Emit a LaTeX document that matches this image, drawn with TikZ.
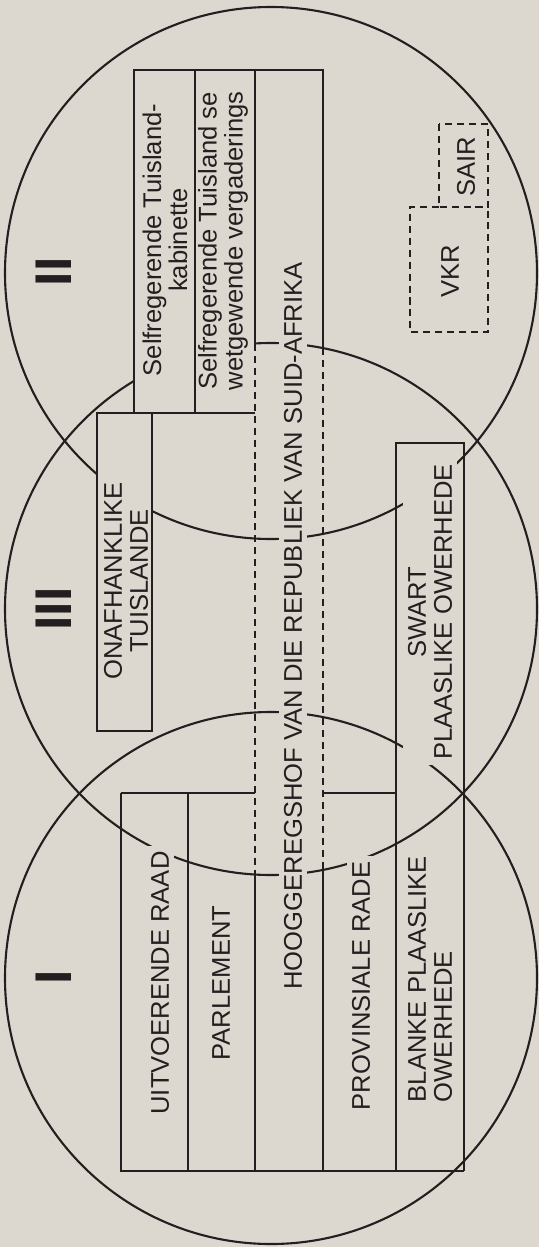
\documentclass[tikz,border=0pt]{standalone}
\usepackage{fontspec}
\setmainfont{Liberation Sans}
\usepackage{tikz}
\usetikzlibrary{positioning}
\definecolor{paper}{RGB}{221,216,207}
\definecolor{ink}{RGB}{35,31,32}

\begin{document}
\begin{tikzpicture}[x=0.02cm, y=-0.02cm,
  ring/.style={ink, line width=1.2pt},
  cell/.style={ink, line width=0.7pt},
  dashcell/.style={ink, line width=0.8pt, dash pattern=on 4pt off 2.8pt},
  lbl/.style={rotate=90, align=center, fill=paper, inner sep=3pt, text=ink,
    font=\fontsize{14.57}{14.8}\selectfont},
  boxlbl/.style={lbl, fill=none},
  numeral/.style={rotate=90, text=ink, inner sep=0pt,
    font=\fontsize{29.4}{30}\selectfont\bfseries}]
  % Paper
  \fill[paper] (0,0) rectangle (539,1247);
  \useasboundingbox (0,0) rectangle (539,1247);
  % === Circles II, III, I (top to bottom) ===
  \foreach \cy in {273,609,978} {
    \draw[ring] (271,\cy) circle (266);
  }
  % === Boxes of circle II and III (opaque) ===
  \fill[paper] (134,70) rectangle (255,413);
  \fill[paper] (97,413) rectangle (152,731);
  \draw[cell] (255,344) -- (255,70) -- (134,70) -- (134,413);
  \draw[cell] (195,70) -- (195,413);
  \draw[cell] (97,413) -- (255,413);
  \draw[cell] (97,413) rectangle (152,731);
  \draw[cell] (255,70) -- (323,70) -- (323,348);
  % Supreme court column: dashed where it lies in circle III
  \draw[dashcell] (255,344) -- (255,875);
  \draw[dashcell] (323,348) -- (323,870);
  \draw[cell] (255,875) -- (255,1171);
  \draw[cell] (323,870) -- (323,1171);
  % === Table of circle I ===
  \draw[cell] (121,793) -- (255,793);
  \draw[cell] (323,793) -- (396,793);
  \draw[cell] (121,793) -- (121,1171) -- (464,1171);
  \draw[cell] (188,793) -- (188,1171);
  \draw[cell] (396,1171) -- (396,443) -- (464,443) -- (464,1171);
  % === Dashed boxes ===
  \draw[dashcell] (439,124) rectangle (488,207);
  \draw[dashcell] (439,207) -- (410,207) -- (410,332) -- (488,332) -- (488,207);
  % Numerals
  \node[numeral] (numII) at (54,272) {II};
  \node[numeral] (numIII) at (54,609) {III};
  \node[numeral] (numI) at (54,977) {I};
  % Labels
  \node[boxlbl] (kabinette) at (165,240) {Selfregerende Tuisland-\\kabinette};
  \node[boxlbl] (wetgewend) at (223,241) {Selfregerende Tuisland se\\wetgewende vergaderings};
  \node[boxlbl] (onafh) at (126,581) {ONAFHANKLIKE\\TUISLANDE};
  \node[lbl] (hof) at (293,626) {HOOGGEREGSHOF VAN DIE REPUBLIEK VAN SUID-AFRIKA};
  \node[lbl] (swart) at (430,612) {SWART\\PLAASLIKE OWERHEDE};
  \node[lbl] (uitv) at (160,983) {UITVOERENDE RAAD};
  \node[lbl] (parl) at (221,983) {PARLEMENT};
  \node[lbl] (prov) at (361,986) {PROVINSIALE RADE};
  \node[lbl, align=left] (blanke) at (430,979) {BLANKE PLAASLIKE\\OWERHEDE};
  \node[lbl] (sair) at (466,167) {SAIR};
  \node[lbl] (vkr) at (450,271) {VKR};
\end{tikzpicture}
\end{document}
